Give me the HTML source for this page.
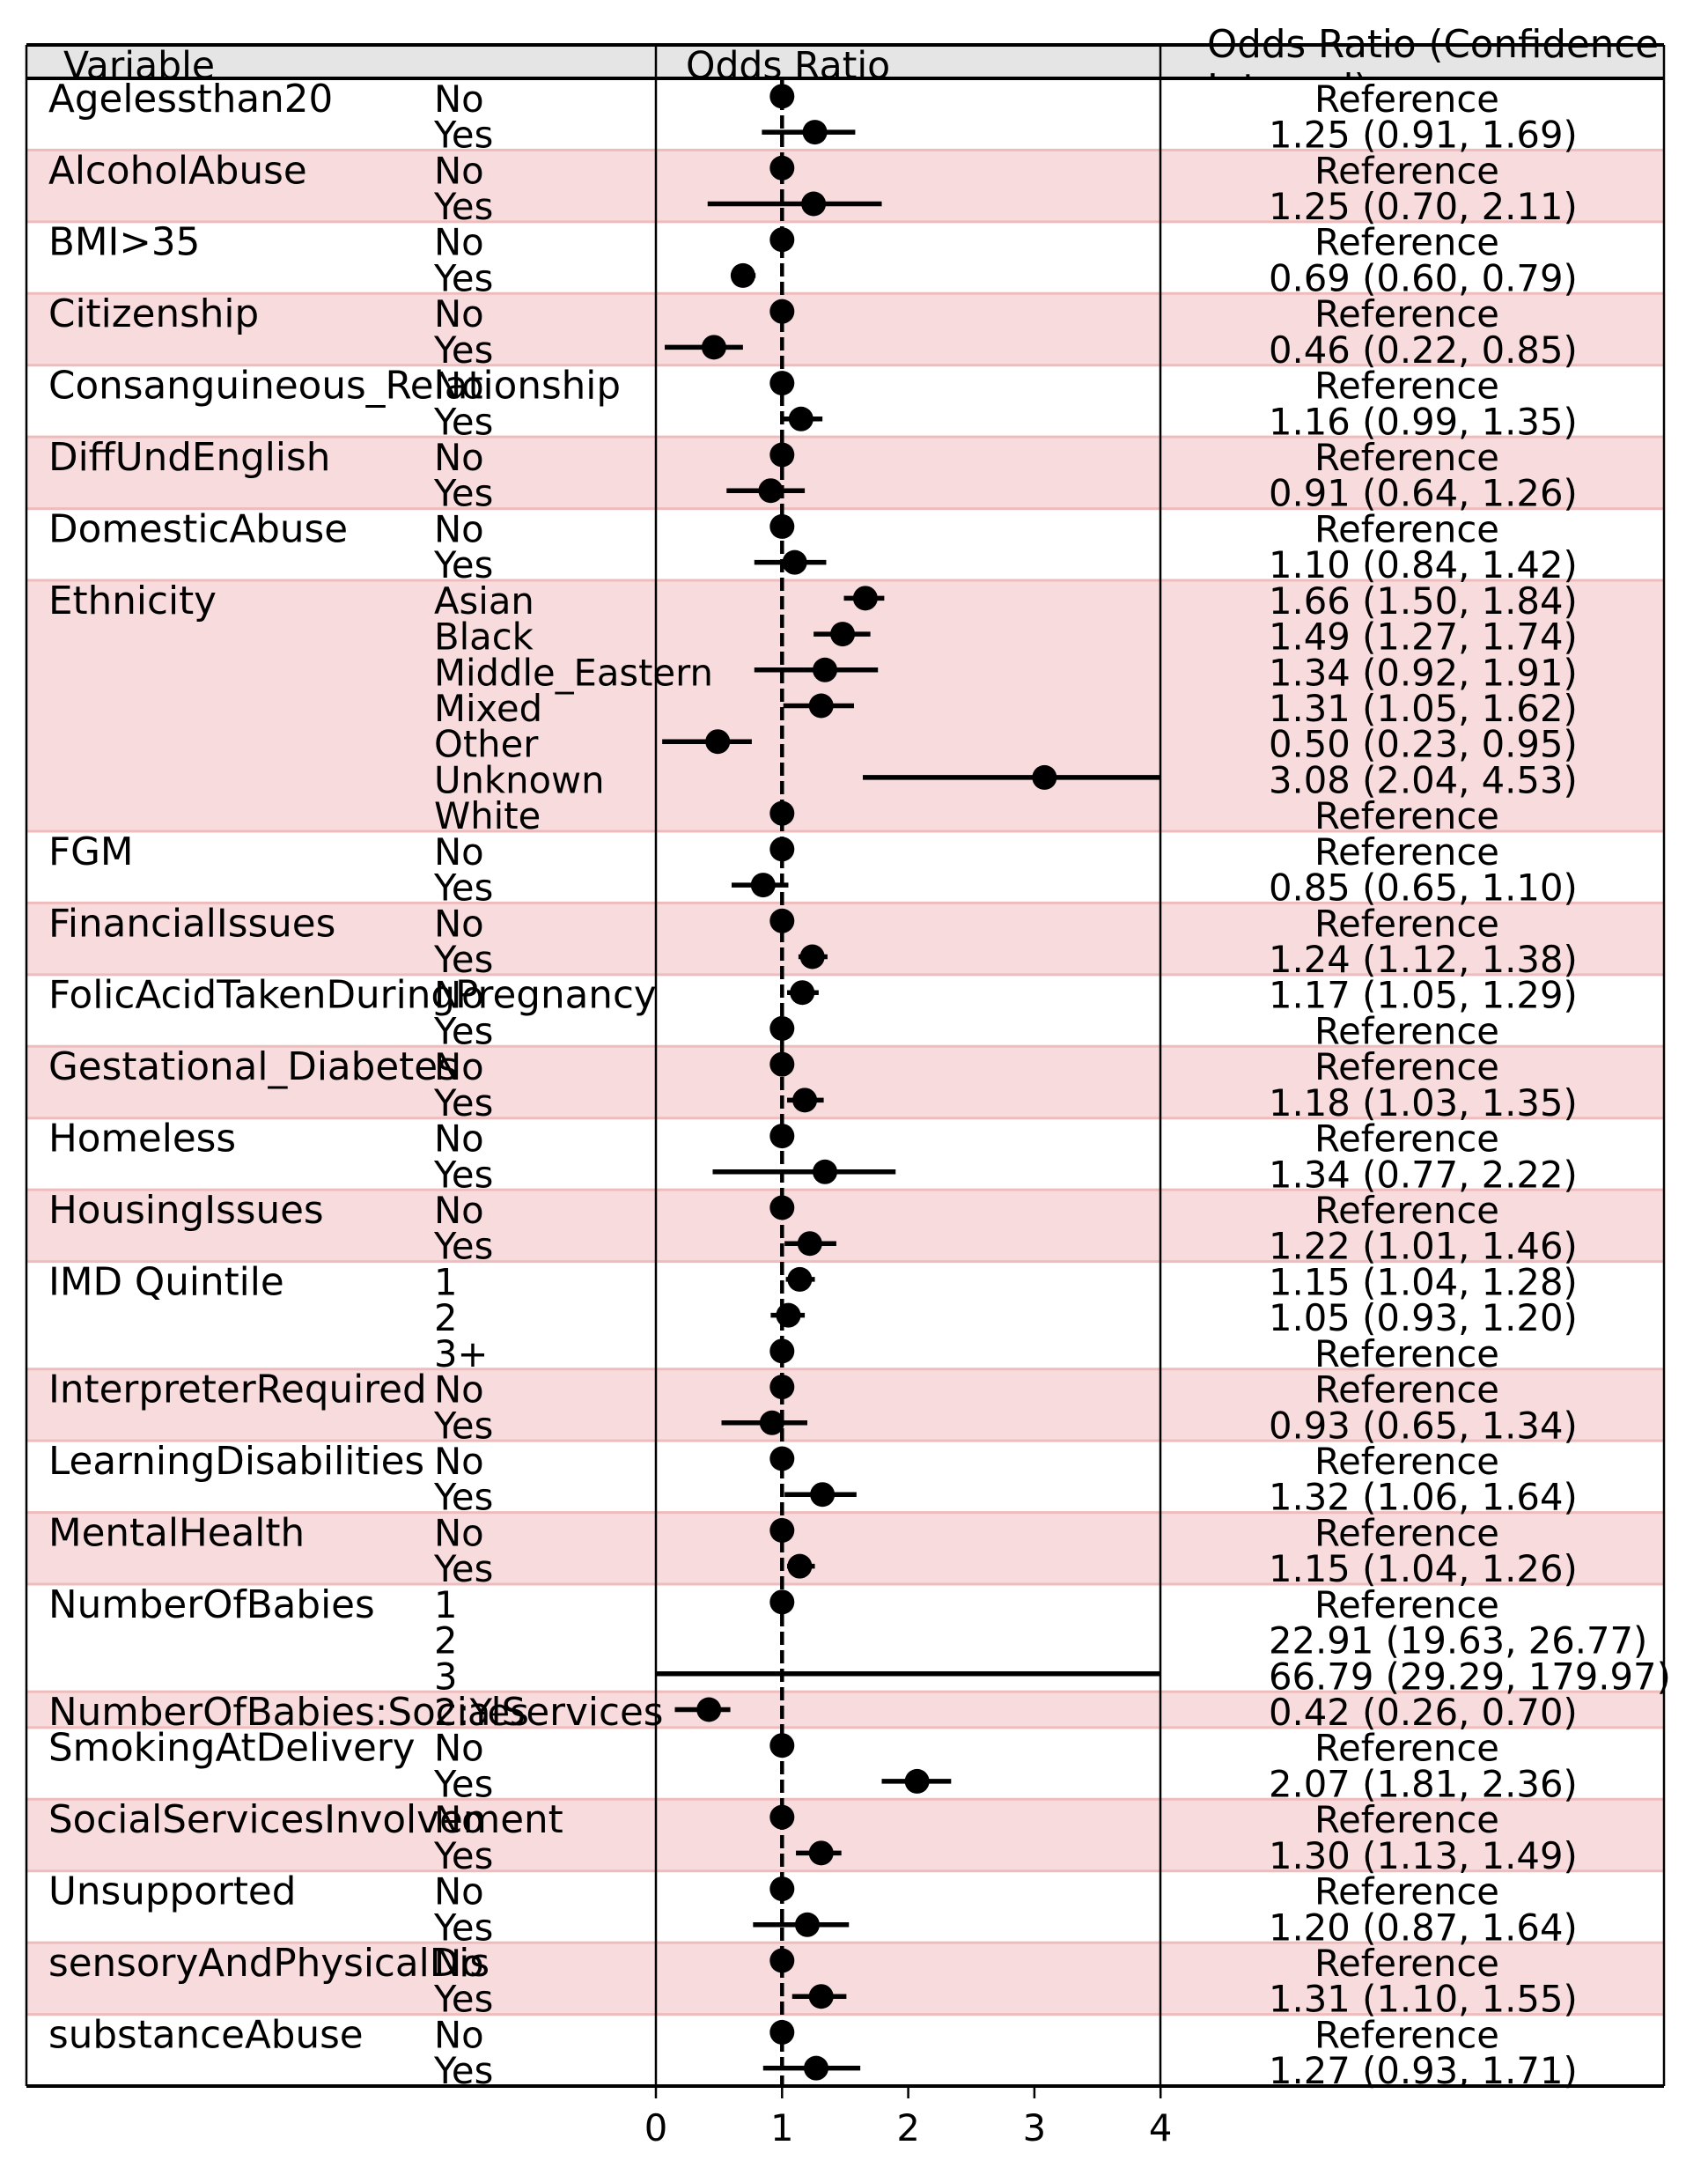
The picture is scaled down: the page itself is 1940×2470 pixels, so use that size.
<!DOCTYPE html>
<html><head><meta charset="utf-8"><style>
html,body{margin:0;padding:0;background:#fff;}
svg{display:block;font-family:"DejaVu Sans","Liberation Sans",sans-serif;}
</style></head><body>
<svg id="chart" width="1940" height="2470" viewBox="0 0 1940 2470" xmlns="http://www.w3.org/2000/svg">
<defs><clipPath id="hdrclip"><rect x="0" y="0" width="1940" height="88"/></clipPath>
<clipPath id="plotclip"><rect x="745" y="89" width="573" height="2280"/></clipPath></defs>
<g id="bands"></g>
<g id="texts"></g>
<g id="marks" clip-path="url(#plotclip)"></g>
<g id="frame"></g>
</svg>
<script>
// ---- data ----
const groups = ["Agelessthan20","AlcoholAbuse","BMI>35","Citizenship","Consanguineous_Relationship","DiffUndEnglish","DomesticAbuse","Ethnicity","FGM","FinancialIssues","FolicAcidTakenDuringPregnancy","Gestational_Diabetes","Homeless","HousingIssues","IMD Quintile","InterpreterRequired","LearningDisabilities","MentalHealth","NumberOfBabies","NumberOfBabies:SocialServices","SmokingAtDelivery","SocialServicesInvolvement","Unsupported","sensoryAndPhysicalDis","substanceAbuse"];
const groupSizes = [2,2,2,2,2,2,2,7,2,2,2,2,2,2,3,2,2,2,3,1,2,2,2,2,2];
const levels = ["No","Yes","No","Yes","No","Yes","No","Yes","No","Yes","No","Yes","No","Yes","Asian","Black","Middle_Eastern","Mixed","Other","Unknown","White","No","Yes","No","Yes","No","Yes","No","Yes","No","Yes","No","Yes","1","2","3+","No","Yes","No","Yes","No","Yes","1","2","3","2:Yes","No","Yes","No","Yes","No","Yes","No","Yes","No","Yes"];
const labelsOR = ["Reference","1.25 (0.91, 1.69)","Reference","1.25 (0.70, 2.11)","Reference","0.69 (0.60, 0.79)","Reference","0.46 (0.22, 0.85)","Reference","1.16 (0.99, 1.35)","Reference","0.91 (0.64, 1.26)","Reference","1.10 (0.84, 1.42)","1.66 (1.50, 1.84)","1.49 (1.27, 1.74)","1.34 (0.92, 1.91)","1.31 (1.05, 1.62)","0.50 (0.23, 0.95)","3.08 (2.04, 4.53)","Reference","Reference","0.85 (0.65, 1.10)","Reference","1.24 (1.12, 1.38)","1.17 (1.05, 1.29)","Reference","Reference","1.18 (1.03, 1.35)","Reference","1.34 (0.77, 2.22)","Reference","1.22 (1.01, 1.46)","1.15 (1.04, 1.28)","1.05 (0.93, 1.20)","Reference","Reference","0.93 (0.65, 1.34)","Reference","1.32 (1.06, 1.64)","Reference","1.15 (1.04, 1.26)","Reference","22.91 (19.63, 26.77)","66.79 (29.29, 179.97)","0.42 (0.26, 0.70)","Reference","2.07 (1.81, 2.36)","Reference","1.30 (1.13, 1.49)","Reference","1.20 (0.87, 1.64)","Reference","1.31 (1.10, 1.55)","Reference","1.27 (0.93, 1.71)"];
// plotted point estimates and interval ends (null = not drawn / reference)
const pointOR = [1,1.26,1,1.25,1,0.69,1,0.46,1,1.15,1,0.91,1,1.10,1.66,1.48,1.34,1.31,0.49,3.08,1,1,0.85,1,1.24,1.16,1,1,1.18,1,1.34,1,1.22,1.14,1.05,1,1,0.92,1,1.32,1,1.14,1,22.91,66.79,0.42,1,2.07,1,1.31,1,1.20,1,1.31,1,1.27];
const ciLow  = [null,0.84,null,0.41,null,0.60,null,0.07,null,0.99,null,0.56,null,0.78,1.49,1.25,0.78,1.01,0.05,1.64,null,null,0.60,null,1.13,1.04,null,null,1.04,null,0.45,null,1.02,1.03,0.91,null,null,0.52,null,1.02,null,1.04,null,null,-1,0.15,null,1.79,null,1.11,null,0.77,null,1.08,null,0.85];
const ciHigh = [null,1.58,null,1.79,null,0.79,null,0.69,null,1.32,null,1.18,null,1.35,1.81,1.70,1.76,1.57,0.76,4.5,null,null,1.05,null,1.36,1.29,null,null,1.33,null,1.90,null,1.43,1.26,1.18,null,null,1.20,null,1.59,null,1.26,null,null,9,0.59,null,2.34,null,1.47,null,1.53,null,1.51,null,1.62];
const xTicks = [0,1,2,3,4];

// ---- geometry ----
const NS="http://www.w3.org/2000/svg";
const TOP=89, BOT=2369, L=30, R=1890, D1=745, D2=1318;
const FS=41.7, FSV=43.6;
const nRows = levels.length;
const rowH = (BOT-TOP)/nRows;
const X = v => 745 + v*143.3;
const Y = i => TOP + rowH*(i+0.5);
function mk(tag, attrs, parent){const e=document.createElementNS(NS,tag);for(const k in attrs)e.setAttribute(k,attrs[k]);parent.appendChild(e);return e;}
const bands=document.getElementById('bands'), texts=document.getElementById('texts'), marks=document.getElementById('marks'), frame=document.getElementById('frame');

let r=0;
groups.forEach((g,gi)=>{
  const y0=TOP+r*rowH, h=groupSizes[gi]*rowH;
  if(gi%2===1){
    const b=mk('rect',{x:L,y:y0,width:R-L,height:h,fill:'#f8dcdd'},bands);
    
    
    mk('line',{x1:L,x2:R,y1:y0,y2:y0,stroke:'#efbcbd','stroke-width':3},bands);
    mk('line',{x1:L,x2:R,y1:y0+h,y2:y0+h,stroke:'#efbcbd','stroke-width':3},bands);
  }
  const t=mk('text',{x:55,y:Y(r)+17.5,'font-size':FSV,fill:'#000'},texts);
  t.textContent=g;
  
  
  r+=groupSizes[gi];
});
levels.forEach((lv,i)=>{
  const t=mk('text',{x:493,y:Y(i)+17.5,'font-size':FS},texts);
  t.textContent=lv;
  
  
  const isRef=labelsOR[i]==='Reference';
  const o=mk('text',{x:isRef?1493:1441,y:Y(i)+17.5,'font-size':FS},texts);
  o.textContent=labelsOR[i];
  
  
});
const dl=mk('line',{x1:X(1),x2:X(1),y1:TOP,y2:BOT,stroke:'#000','stroke-width':4.5,'stroke-dasharray':'15 6'},marks);


pointOR.forEach((p,i)=>{
  if(ciLow[i]!==null){
    const l=mk('line',{x1:X(ciLow[i]),x2:X(ciHigh[i]),y1:Y(i),y2:Y(i),stroke:'#000','stroke-width':5.5},marks);
    
    
  }
  const c=mk('circle',{cx:X(p),cy:Y(i),r:14,fill:'#000'},marks);
  
  
});
const hb=mk('rect',{x:L,y:51,width:R-L,height:38,fill:'#e5e5e5'},frame);


[['Variable',72,'header-variable'],['Odds Ratio',779,'header-odds-ratio']].forEach(h=>{
  const t=mk('text',{x:h[1],y:89,'font-size':42.5},frame);
  t.textContent=h[0];
  
  
});
const hg=mk('g',{'clip-path':'url(#hdrclip)'},frame);
const h1=mk('text',{x:1371,y:65,'font-size':43.5},hg);
h1.textContent='Odds Ratio (Confidence';


const h2=mk('text',{x:1371,y:115,'font-size':43.5},hg);
h2.textContent='Interval)';


mk('line',{x1:L,x2:R,y1:51,y2:51,stroke:'#000','stroke-width':4},frame);
mk('line',{x1:L,x2:R,y1:89,y2:89,stroke:'#000','stroke-width':4},frame);
mk('line',{x1:L,x2:R,y1:BOT,y2:BOT,stroke:'#000','stroke-width':4},frame);
[L,D1,D2,R].forEach(x=>mk('line',{x1:x,x2:x,y1:51,y2:BOT,stroke:'#000','stroke-width':2.5},frame));
xTicks.forEach(v=>{
  mk('line',{x1:X(v),x2:X(v),y1:BOT,y2:2383,stroke:'#000','stroke-width':2.5},frame);
  const t=mk('text',{x:X(v),y:2431,'font-size':FS,'text-anchor':'middle'},frame);
  t.textContent=String(v);
  
  
});
</script>
</body></html>
